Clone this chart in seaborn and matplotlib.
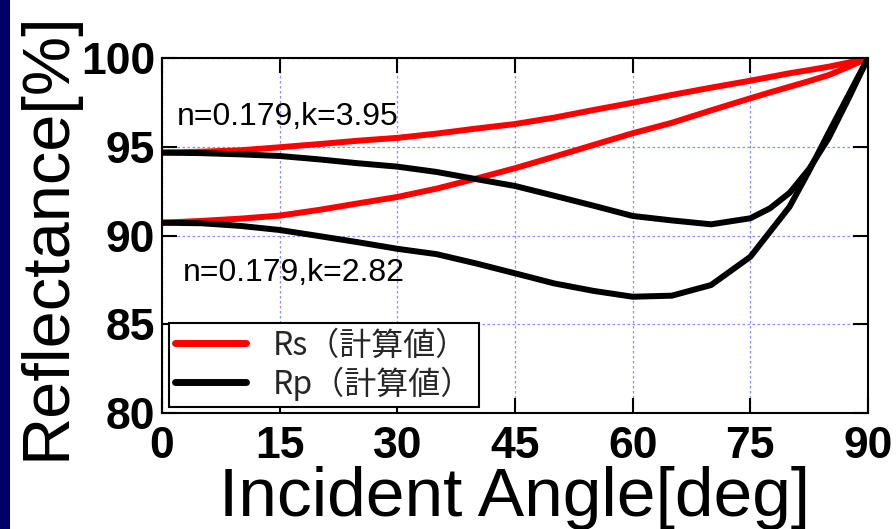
import matplotlib
matplotlib.use("Agg")
import matplotlib.pyplot as plt
from matplotlib.patches import Rectangle
import seaborn as sns

# incident angle samples [deg]
angles = [0, 5, 10, 15, 20, 25, 30, 35, 40, 45, 50, 55, 60, 65, 70, 75,
          77.5, 80, 82.5, 85, 87.5, 90]

# reflectance [%] for n=0.179, k=3.95
rs_k395 = [94.67, 94.72, 94.80, 94.97, 95.15, 95.34, 95.50, 95.74, 96.02, 96.28,
           96.64, 97.07, 97.48, 97.92, 98.33, 98.72, 98.93, 99.14, 99.32, 99.51,
           99.74, 100.0]
rp_k395 = [94.67, 94.64, 94.57, 94.48, 94.29, 94.07, 93.88, 93.58, 93.18, 92.79,
           92.24, 91.68, 91.10, 90.85, 90.63, 90.97, 91.53, 92.40, 93.75, 95.50,
           97.70, 100.0]

# reflectance [%] for n=0.179, k=2.82
rs_k282 = [90.72, 90.82, 90.95, 91.12, 91.44, 91.81, 92.17, 92.64, 93.20, 93.79,
           94.44, 95.10, 95.76, 96.35, 97.05, 97.73, 98.06, 98.38, 98.70, 99.04,
           99.50, 100.0]
rp_k282 = [90.72, 90.69, 90.54, 90.31, 89.97, 89.62, 89.25, 88.95, 88.43, 87.87,
           87.30, 86.88, 86.55, 86.61, 87.21, 88.80, 90.21, 91.62, 93.65, 95.80,
           97.90, 100.0]

label_rs = "Rs（計算値）"
label_rp = "Rp（計算値）"
note_k395 = "n=0.179,k=3.95"
note_k282 = "n=0.179,k=2.82"

x_ticks = [0, 15, 30, 45, 60, 75, 90]
y_ticks = [80, 85, 90, 95, 100]

sns.set_style("ticks")
plt.rcParams["font.family"] = ["Liberation Sans", "Noto Sans CJK JP", "DejaVu Sans"]

fig = plt.figure(figsize=(8.96, 5.29), dpi=100)
fig.patches.append(Rectangle((0, 0), 10 / 896, 1, transform=fig.transFigure,
                             facecolor="#000066", edgecolor="none", zorder=0))

ax = fig.add_axes([162 / 896, 1 - 413 / 529, 706 / 896, 355 / 529])

lw = 4.3
sns.lineplot(x=angles, y=rs_k395, color="#ff0000", linewidth=lw, ax=ax, label=label_rs)
sns.lineplot(x=angles, y=rs_k282, color="#ff0000", linewidth=lw, ax=ax)
sns.lineplot(x=angles, y=rp_k395, color="#000000", linewidth=lw, ax=ax, label=label_rp)
sns.lineplot(x=angles, y=rp_k282, color="#000000", linewidth=lw, ax=ax)

ax.set_xlim(0, 90)
ax.set_ylim(80, 100)
ax.set_xticks(x_ticks)
ax.set_yticks(y_ticks)
ax.grid(True, color="#8c8cff", linestyle=(0, (2, 2)), linewidth=0.9)
ax.set_axisbelow(True)

for s in ax.spines.values():
    s.set_visible(True)
    s.set_color("black")
    s.set_linewidth(1.5)

ax.tick_params(direction="in", length=11, width=1.5, color="black",
               top=True, right=True, labelsize=32, labelcolor="black")
ax.tick_params(axis="x", pad=9)
ax.tick_params(axis="y", pad=5)
for lab in ax.get_xticklabels() + ax.get_yticklabels():
    lab.set_fontweight("bold")

ax.set_xlabel("Incident Angle[deg]", fontsize=50, color="black")
ax.set_ylabel("Reflectance[%]", fontsize=48, color="black")
ax.xaxis.set_label_coords(0.5, -0.15)
ax.yaxis.set_label_coords(-0.118, 0.5)

ax.text(1.9, 96.7, note_k395, fontsize=23, va="center", ha="left", color="black")
ax.text(2.7, 87.86, note_k282, fontsize=23, va="center", ha="left", color="black")

leg = ax.legend(loc="lower left", bbox_to_anchor=(0.0099, 0.017),
                prop={"family": ["Noto Sans CJK JP", "DejaVu Sans"], "size": 23},
                frameon=True, fancybox=False, edgecolor="black", framealpha=1,
                handlelength=2.2, handletextpad=0.85, borderpad=0.2,
                labelspacing=0.15, borderaxespad=0)
leg.get_frame().set_linewidth(1.5)
for line in leg.get_lines():
    line.set_linewidth(5)

fig.savefig("out.png", dpi=100)
